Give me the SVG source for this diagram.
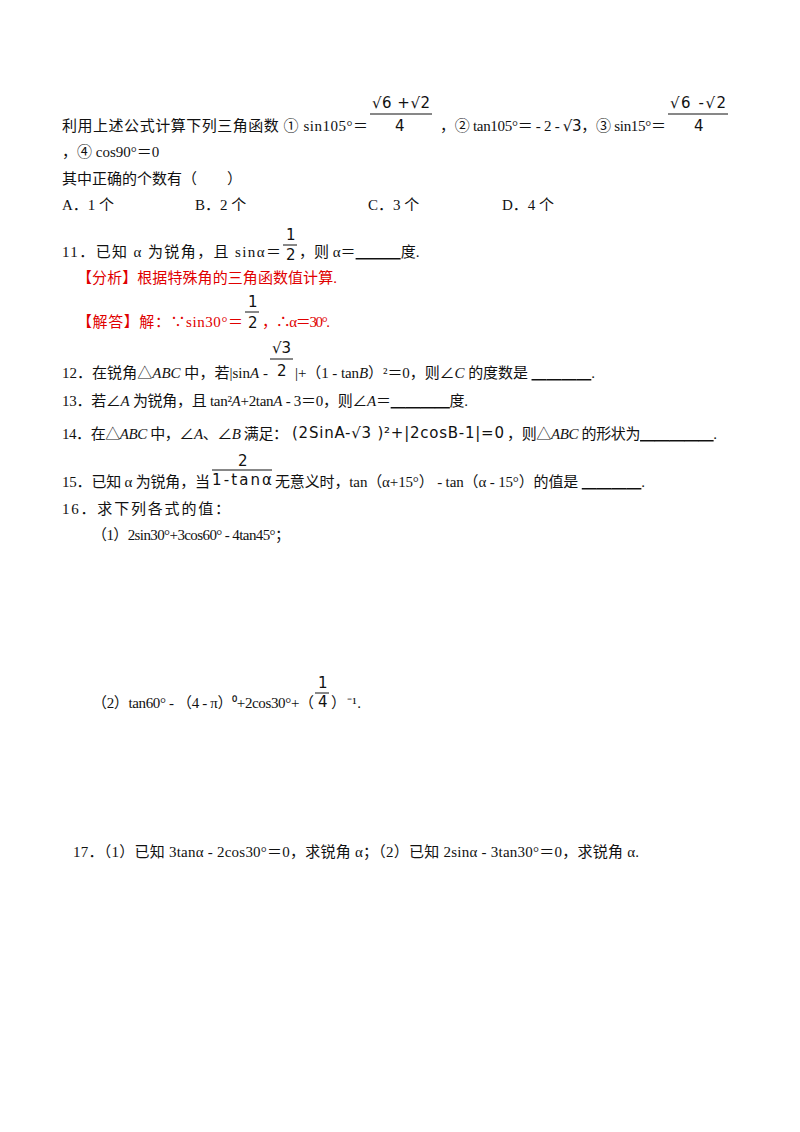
<svg xmlns="http://www.w3.org/2000/svg" width="800" height="1132" viewBox="0 0 800 1132">
<style>
text{font-family:"Liberation Serif","Noto Sans CJK SC",serif;font-size:15px;fill:#111}
.r{fill:#e00000}
.s{font-family:"DejaVu Sans",sans-serif;font-size:15px}
line{stroke:#111;stroke-width:1}
</style>
<rect width="800" height="1132" fill="#fff"/>
<g id="q10">
<text x="62" y="131" textLength="306">利用上述公式计算下列三角函数 ① sin105°＝</text>
<text class="s" x="372" y="108" textLength="58">√6 +√2</text><line x1="370" y1="114" x2="432" y2="114"/><text class="s" x="395" y="131">4</text>
<text x="440" y="131" textLength="226">，② tan105°＝ - 2 - <tspan class="s">√3</tspan>，③ sin15°＝</text>
<text class="s" x="670" y="108" textLength="56">√6 -√2</text><line x1="668" y1="114" x2="728" y2="114"/><text class="s" x="694" y="131">4</text>
<text x="62" y="157">，④ cos90°＝0</text>
<text x="62" y="184">其中正确的个数有（　　）</text>
<text x="62" y="210">A．1 个</text><text x="195" y="210">B．2 个</text><text x="368" y="210">C．3 个</text><text x="502" y="210">D．4 个</text>
</g>
<g id="q11">
<text x="62" y="257" textLength="219">11．已知 α 为锐角，且 sinα＝</text>
<text class="s" x="286" y="240">1</text><line x1="283" y1="245" x2="297" y2="245"/><text class="s" x="286" y="260">2</text>
<text x="299" y="257">，则 α＝<tspan text-decoration="underline">　　　</tspan>度.</text>
<text class="r" x="77" y="283" textLength="260">【分析】根据特殊角的三角函数值计算.</text>
<text class="r" x="77" y="327" textLength="166">【解答】解：∵sin30°＝</text>
<text class="s" x="248" y="307">1</text><line x1="245" y1="312" x2="259" y2="312"/><text class="s" x="248" y="328">2</text>
<text class="r" x="262" y="327" textLength="68">，∴α＝30°.</text>
</g>
<g id="q12">
<text x="62" y="378" textLength="206">12．在锐角△<tspan font-style="italic">ABC</tspan> 中，若|sin<tspan font-style="italic">A</tspan> -</text>
<text class="s" x="272" y="353">√3</text><line x1="270" y1="359" x2="293" y2="359"/><text class="s" x="277" y="376">2</text>
<text x="295" y="378" textLength="300">|+（1 - tan<tspan font-style="italic">B</tspan>）²＝0，则∠<tspan font-style="italic">C</tspan> 的度数是 <tspan text-decoration="underline">　　　　</tspan>.</text>
</g>
<g id="q13">
<text x="62" y="406" textLength="406">13．若∠<tspan font-style="italic">A</tspan> 为锐角，且 tan²<tspan font-style="italic">A</tspan>+2tan<tspan font-style="italic">A</tspan> - 3＝0，则∠<tspan font-style="italic">A</tspan>＝<tspan text-decoration="underline">　　　　</tspan>度.</text>
</g>
<g id="q14">
<text x="62" y="439" textLength="226">14．在△<tspan font-style="italic">ABC</tspan> 中，∠<tspan font-style="italic">A</tspan>、∠<tspan font-style="italic">B</tspan> 满足：</text>
<text class="s" x="292" y="438" font-size="14" textLength="212">(2SinA-√3 )²+|2cosB-1|=0</text>
<text x="507" y="439" textLength="210">，则△<tspan font-style="italic">ABC</tspan> 的形状为<tspan text-decoration="underline">　　　　　</tspan>.</text>
</g>
<g id="q15">
<text x="62" y="487" textLength="148">15．已知 α 为锐角，当</text>
<text class="s" x="238" y="466">2</text><line x1="212" y1="470" x2="272" y2="470"/><text class="s" x="212" y="485" textLength="60">1-tanα</text>
<text x="275" y="487" textLength="370">无意义时，tan（α+15°） - tan（α - 15°）的值是 <tspan text-decoration="underline">　　　　</tspan>.</text>
</g>
<g id="q16">
<text x="62" y="514" textLength="168">16．求下列各式的值：</text>
<text x="92" y="540" textLength="198">（1）2sin30°+3cos60° - 4tan45°；</text>
<text x="92" y="708" textLength="222">（2）tan60° - （4 - π）⁰+2cos30°+（</text>
<text class="s" x="318" y="688">1</text><line x1="315" y1="693" x2="329" y2="693"/><text class="s" x="318" y="707">4</text>
<text x="331" y="708" textLength="30">）⁻¹.</text>
</g>
<g id="q17">
<text x="73" y="857" textLength="566">17．（1）已知 3tanα - 2cos30°＝0，求锐角 α；（2）已知 2sinα - 3tan30°＝0，求锐角 α.</text>
</g>
</svg>
